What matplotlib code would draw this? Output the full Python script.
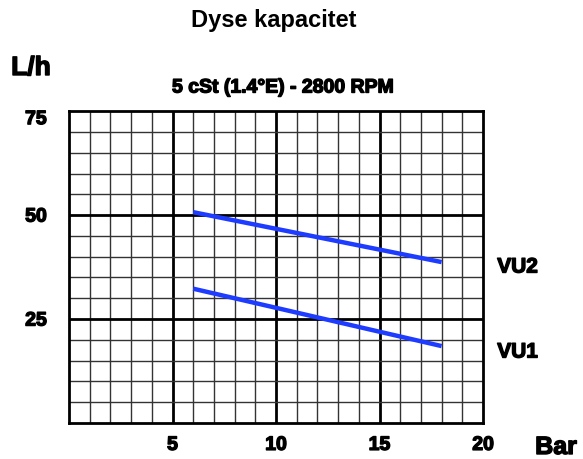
import matplotlib
matplotlib.use("Agg")
import matplotlib.pyplot as plt
import matplotlib.patheffects as pe
import numpy as np

plt.rcParams['font.family'] = ['Liberation Sans', 'DejaVu Sans']
plt.rcParams['font.weight'] = 'bold'

# data
pressure = [6, 18]
vu2_flow = [50.7, 38.7]
vu1_flow = [32.3, 18.5]
x_ticks = [5, 10, 15, 20]
y_ticks = [25, 50, 75]

heavy = [pe.withStroke(linewidth=1.0, foreground='black')]

fig = plt.figure(figsize=(5.83, 4.59), dpi=100)
ax = fig.add_axes([0.1184, 0.0784, 0.7101, 0.6795])

ax.set_xlim(0, 20)
ax.set_ylim(0, 75)

# minor grid every 1 bar / 5 L/h, major every 5 bar / 25 L/h
for xv in np.arange(1, 20):
    lw = 2.0 if xv % 5 == 0 else 1.0
    c = 'black' if xv % 5 == 0 else '#333333'
    ax.axvline(xv, color=c, lw=lw, zorder=1)
for yv in np.arange(5, 75, 5):
    lw = 2.0 if yv % 25 == 0 else 1.0
    c = 'black' if yv % 25 == 0 else '#333333'
    ax.axhline(yv, color=c, lw=lw, zorder=1)

ax.plot(pressure, vu2_flow, color='#1e3cff', lw=3.2, zorder=3, solid_capstyle='butt')
ax.plot(pressure, vu1_flow, color='#1e3cff', lw=3.2, zorder=3, solid_capstyle='butt')

for s in ax.spines.values():
    s.set_linewidth(2.0)
    s.set_color('black')

ax.set_xticks(x_ticks)
ax.set_yticks(y_ticks)
ax.tick_params(length=0, labelsize=14)
ax.tick_params(axis='x', pad=10)
ax.tick_params(axis='y', pad=16)
for lab in ax.get_xticklabels() + ax.get_yticklabels():
    lab.set_fontweight('bold')
    lab.set_path_effects(heavy)
ax.get_yticklabels()[-1].set_va('top')

fig.text(0.853, 1 - 267 / 459, 'VU2', fontsize=15, fontweight='bold', ha='left', va='center', path_effects=heavy)
fig.text(0.853, 1 - 352 / 459, 'VU1', fontsize=15, fontweight='bold', ha='left', va='center', path_effects=heavy)

fig.text(274 / 583, 1 - 20 / 459, 'Dyse kapacitet', fontsize=17, fontweight='bold', ha='center', va='center')
fig.text(31 / 583, 1 - 68 / 459, 'L/h', fontsize=19, fontweight='bold', ha='center', va='center', path_effects=heavy)
fig.text(283 / 583, 1 - 88 / 459, '5 cSt (1.4°E) - 2800 RPM', fontsize=14, fontweight='bold',
         ha='center', va='center', path_effects=heavy)
fig.text(556 / 583, 1 - 447 / 459, 'Bar', fontsize=18, fontweight='bold', ha='center', va='center', path_effects=heavy)

fig.savefig('out.png', dpi=100, facecolor='white')
